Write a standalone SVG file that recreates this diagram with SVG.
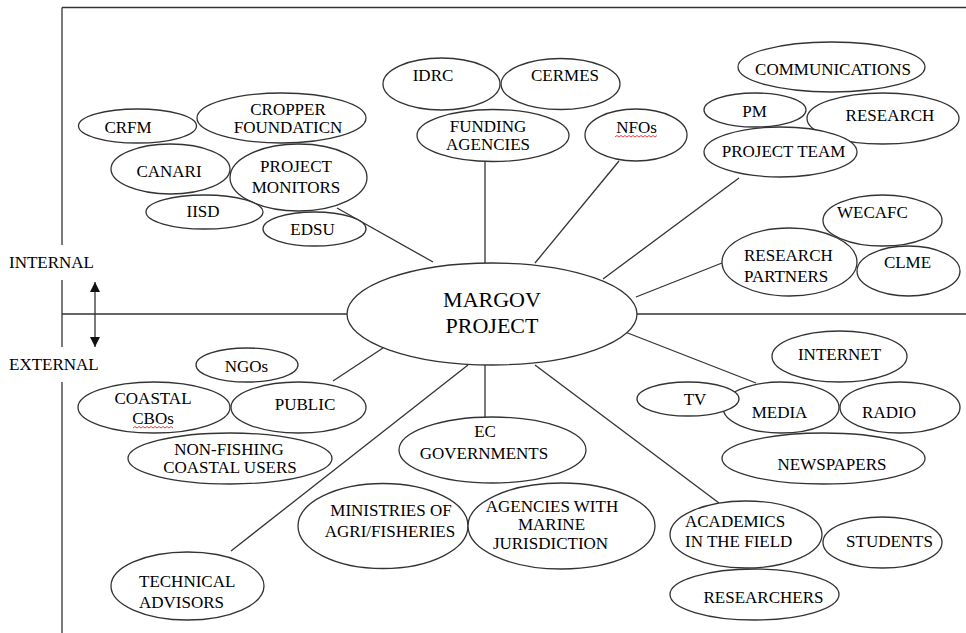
<svg xmlns="http://www.w3.org/2000/svg" width="966" height="633" viewBox="0 0 966 633">
<defs>
  <marker id="ah" viewBox="0 0 10 10" refX="10" refY="5" markerWidth="10" markerHeight="10" markerUnits="userSpaceOnUse" orient="auto">
    <path d="M0,0 L10,5 L0,10 z" fill="#111"/>
  </marker>
</defs>
<rect width="966" height="633" fill="#fff"/>

<g id="frame" stroke="#333" stroke-width="1.3" fill="none">
  <line x1="62" y1="7.5" x2="966" y2="7.5"/>
  <line x1="62" y1="7.5" x2="62" y2="245"/>
  <line x1="62" y1="280" x2="62" y2="347"/>
  <line x1="62" y1="382" x2="62" y2="633"/>
  <line x1="62" y1="314" x2="348" y2="314"/>
  <line x1="637" y1="314" x2="966" y2="314"/>
  <line x1="95" y1="300" x2="95" y2="282" marker-end="url(#ah)"/>
  <line x1="95" y1="300" x2="95" y2="347" marker-end="url(#ah)"/>
</g>
<text font-family="Liberation Serif" font-size="17" x="9" y="268">INTERNAL</text>
<text font-family="Liberation Serif" font-size="17" x="9" y="370">EXTERNAL</text>

<g id="connectors" stroke="#333" stroke-width="1.3" fill="none">
  <line x1="337" y1="208" x2="433" y2="262"/>
  <line x1="485" y1="161" x2="485" y2="263"/>
  <line x1="619" y1="161" x2="535" y2="263"/>
  <line x1="739" y1="178" x2="603" y2="279"/>
  <line x1="722" y1="263" x2="636" y2="297"/>
  <line x1="333" y1="381" x2="383" y2="348"/>
  <line x1="231" y1="551" x2="468" y2="365"/>
  <line x1="485" y1="365" x2="485" y2="417"/>
  <line x1="535" y1="365" x2="719" y2="503"/>
  <line x1="620" y1="330" x2="756" y2="383"/>
</g>

<g id="margov">
  <ellipse cx="492" cy="314" rx="145" ry="51" fill="#fff" stroke="#333" stroke-width="1.3"/>
  <text font-family="Liberation Serif" font-size="22" text-anchor="middle" x="492" y="307">MARGOV</text>
  <text font-family="Liberation Serif" font-size="22" text-anchor="middle" x="492" y="333">PROJECT</text>
</g>

<g id="crfm">
  <ellipse cx="137.5" cy="126" rx="59" ry="17" fill="#fff" stroke="#333" stroke-width="1.3"/>
  <text font-family="Liberation Serif" font-size="17" text-anchor="middle" x="128" y="133">CRFM</text>
</g>
<g id="cropper">
  <ellipse cx="281.5" cy="118" rx="84.5" ry="25" fill="#fff" stroke="#333" stroke-width="1.3"/>
  <text font-family="Liberation Serif" font-size="17" text-anchor="middle" x="288" y="115">CROPPER</text>
  <text font-family="Liberation Serif" font-size="17" text-anchor="middle" x="288" y="133">FOUNDATICN</text>
</g>
<g id="canari">
  <ellipse cx="170.5" cy="169" rx="59.5" ry="25" fill="#fff" stroke="#333" stroke-width="1.3"/>
  <text font-family="Liberation Serif" font-size="17" text-anchor="middle" x="169" y="177">CANARI</text>
</g>
<g id="project-monitors">
  <ellipse cx="298.5" cy="177.5" rx="68.5" ry="33.5" fill="#fff" stroke="#333" stroke-width="1.3"/>
  <text font-family="Liberation Serif" font-size="17" text-anchor="middle" x="296" y="172">PROJECT</text>
  <text font-family="Liberation Serif" font-size="17" text-anchor="middle" x="296" y="193">MONITORS</text>
</g>
<g id="iisd">
  <ellipse cx="204.5" cy="212" rx="58.5" ry="17" fill="#fff" stroke="#333" stroke-width="1.3"/>
  <text font-family="Liberation Serif" font-size="17" text-anchor="middle" x="203" y="217">IISD</text>
</g>
<g id="edsu">
  <ellipse cx="314.5" cy="229" rx="51.5" ry="17" fill="#fff" stroke="#333" stroke-width="1.3"/>
  <text font-family="Liberation Serif" font-size="17" text-anchor="middle" x="312.5" y="235">EDSU</text>
</g>

<g id="idrc">
  <ellipse cx="441.5" cy="84" rx="58.5" ry="26" fill="#fff" stroke="#333" stroke-width="1.3"/>
  <text font-family="Liberation Serif" font-size="17" text-anchor="middle" x="433" y="81">IDRC</text>
</g>
<g id="cermes">
  <ellipse cx="560.5" cy="84" rx="59.5" ry="25.5" fill="#fff" stroke="#333" stroke-width="1.3"/>
  <text font-family="Liberation Serif" font-size="17" text-anchor="middle" x="565" y="81">CERMES</text>
</g>
<g id="funding">
  <ellipse cx="493" cy="135.5" rx="76" ry="26" fill="#fff" stroke="#333" stroke-width="1.3"/>
  <text font-family="Liberation Serif" font-size="17" text-anchor="middle" x="488" y="132">FUNDING</text>
  <text font-family="Liberation Serif" font-size="17" text-anchor="middle" x="488" y="150">AGENCIES</text>
</g>
<g id="nfos">
  <ellipse cx="636" cy="135" rx="51" ry="26" fill="#fff" stroke="#333" stroke-width="1.3"/>
  <text font-family="Liberation Serif" font-size="17" text-anchor="middle" x="636.5" y="133">NFOs</text>
  <path fill="none" stroke="#e03030" stroke-width="0.9" d="M615,137 l2,-1.5 l2,1.5 l2,-1.5 l2,1.5 l2,-1.5 l2,1.5 l2,-1.5 l2,1.5 l2,-1.5 l2,1.5 l2,-1.5 l2,1.5 l2,-1.5 l2,1.5 l2,-1.5 l2,1.5 l2,-1.5 l2,1.5 l2,-1.5 l2,1.5 l2,-1.5"/>
</g>

<g id="communications">
  <ellipse cx="831.5" cy="67" rx="93.5" ry="25" fill="#fff" stroke="#333" stroke-width="1.3"/>
  <text font-family="Liberation Serif" font-size="17" text-anchor="middle" x="833" y="75">COMMUNICATIONS</text>
</g>
<g id="pm">
  <ellipse cx="755" cy="110" rx="51" ry="17" fill="#fff" stroke="#333" stroke-width="1.3"/>
  <text font-family="Liberation Serif" font-size="17" text-anchor="middle" x="754.5" y="117">PM</text>
</g>
<g id="research">
  <ellipse cx="883" cy="118.5" rx="76" ry="25.5" fill="#fff" stroke="#333" stroke-width="1.3"/>
  <text font-family="Liberation Serif" font-size="17" text-anchor="middle" x="890" y="121">RESEARCH</text>
</g>
<g id="project-team">
  <ellipse cx="780.5" cy="152" rx="76.5" ry="25" fill="#fff" stroke="#333" stroke-width="1.3"/>
  <text font-family="Liberation Serif" font-size="17" text-anchor="middle" x="783.5" y="157">PROJECT TEAM</text>
</g>

<g id="wecafc">
  <ellipse cx="882.5" cy="220.5" rx="59.5" ry="25.5" fill="#fff" stroke="#333" stroke-width="1.3"/>
  <text font-family="Liberation Serif" font-size="17" text-anchor="middle" x="872.5" y="218">WECAFC</text>
</g>
<g id="research-partners">
  <ellipse cx="789.5" cy="262" rx="67.5" ry="34" fill="#fff" stroke="#333" stroke-width="1.3"/>
  <text font-family="Liberation Serif" font-size="17" x="744" y="261">RESEARCH</text>
  <text font-family="Liberation Serif" font-size="17" x="744" y="282">PARTNERS</text>
</g>
<g id="clme">
  <ellipse cx="908.5" cy="271" rx="51.5" ry="25" fill="#fff" stroke="#333" stroke-width="1.3"/>
  <text font-family="Liberation Serif" font-size="17" text-anchor="middle" x="907.5" y="268">CLME</text>
</g>

<g id="ngos">
  <ellipse cx="247" cy="365" rx="51" ry="17" fill="#fff" stroke="#333" stroke-width="1.3"/>
  <text font-family="Liberation Serif" font-size="17" text-anchor="middle" x="246.5" y="372">NGOs</text>
</g>
<g id="coastal-cbos">
  <ellipse cx="154" cy="407.5" rx="76" ry="25.5" fill="#fff" stroke="#333" stroke-width="1.3"/>
  <text font-family="Liberation Serif" font-size="17" text-anchor="middle" x="153" y="404">COASTAL</text>
  <text font-family="Liberation Serif" font-size="17" text-anchor="middle" x="153" y="424">CBOs</text>
  <path fill="none" stroke="#e03030" stroke-width="0.9" d="M133,428 l2,-1.5 l2,1.5 l2,-1.5 l2,1.5 l2,-1.5 l2,1.5 l2,-1.5 l2,1.5 l2,-1.5 l2,1.5 l2,-1.5 l2,1.5 l2,-1.5 l2,1.5 l2,-1.5 l2,1.5 l2,-1.5 l2,1.5 l2,-1.5 l2,1.5"/>
</g>
<g id="public">
  <ellipse cx="298.5" cy="407.5" rx="67.5" ry="25.5" fill="#fff" stroke="#333" stroke-width="1.3"/>
  <text font-family="Liberation Serif" font-size="17" text-anchor="middle" x="305" y="410">PUBLIC</text>
</g>
<g id="non-fishing">
  <ellipse cx="230" cy="458.5" rx="102" ry="25.5" fill="#fff" stroke="#333" stroke-width="1.3"/>
  <text font-family="Liberation Serif" font-size="17" text-anchor="middle" x="229" y="455">NON-FISHING</text>
  <text font-family="Liberation Serif" font-size="17" text-anchor="middle" x="230" y="473">COASTAL USERS</text>
</g>
<g id="technical-advisors">
  <ellipse cx="187.5" cy="586" rx="76.5" ry="34" fill="#fff" stroke="#333" stroke-width="1.3"/>
  <text font-family="Liberation Serif" font-size="17" x="139" y="587">TECHNICAL</text>
  <text font-family="Liberation Serif" font-size="17" x="139" y="608">ADVISORS</text>
</g>

<g id="ec-governments">
  <ellipse cx="492.5" cy="450" rx="93.5" ry="33" fill="#fff" stroke="#333" stroke-width="1.3"/>
  <text font-family="Liberation Serif" font-size="17" text-anchor="middle" x="485" y="437">EC</text>
  <text font-family="Liberation Serif" font-size="17" text-anchor="middle" x="484" y="459">GOVERNMENTS</text>
</g>
<g id="ministries">
  <ellipse cx="383" cy="526" rx="85" ry="42.5" fill="#fff" stroke="#333" stroke-width="1.3"/>
  <text font-family="Liberation Serif" font-size="17" text-anchor="middle" x="391" y="516">MINISTRIES OF</text>
  <text font-family="Liberation Serif" font-size="17" text-anchor="middle" x="390" y="537">AGRI/FISHERIES</text>
</g>
<g id="agencies-marine">
  <ellipse cx="561.5" cy="526" rx="93.5" ry="43" fill="#fff" stroke="#333" stroke-width="1.3"/>
  <text font-family="Liberation Serif" font-size="17" text-anchor="middle" x="552" y="512">AGENCIES WITH</text>
  <text font-family="Liberation Serif" font-size="17" text-anchor="middle" x="551.5" y="530">MARINE</text>
  <text font-family="Liberation Serif" font-size="17" text-anchor="middle" x="550.5" y="549">JURISDICTION</text>
</g>

<g id="internet">
  <ellipse cx="839.5" cy="356.5" rx="67.5" ry="25.5" fill="#fff" stroke="#333" stroke-width="1.3"/>
  <text font-family="Liberation Serif" font-size="17" text-anchor="middle" x="839.5" y="360">INTERNET</text>
</g>
<g id="media">
  <ellipse cx="781" cy="407.5" rx="58" ry="25.5" fill="#fff" stroke="#333" stroke-width="1.3"/>
  <text font-family="Liberation Serif" font-size="17" text-anchor="middle" x="779.5" y="418">MEDIA</text>
</g>
<g id="tv">
  <ellipse cx="688" cy="399" rx="51" ry="17" fill="#fff" stroke="#333" stroke-width="1.3"/>
  <text font-family="Liberation Serif" font-size="17" text-anchor="middle" x="695" y="405">TV</text>
</g>
<g id="radio">
  <ellipse cx="900" cy="407.5" rx="60" ry="25.5" fill="#fff" stroke="#333" stroke-width="1.3"/>
  <text font-family="Liberation Serif" font-size="17" text-anchor="middle" x="889" y="418">RADIO</text>
</g>
<g id="newspapers">
  <ellipse cx="823.5" cy="458.5" rx="101.5" ry="25.5" fill="#fff" stroke="#333" stroke-width="1.3"/>
  <text font-family="Liberation Serif" font-size="17" text-anchor="middle" x="832" y="470">NEWSPAPERS</text>
</g>

<g id="academics">
  <ellipse cx="746" cy="534.5" rx="76" ry="33.5" fill="#fff" stroke="#333" stroke-width="1.3"/>
  <text font-family="Liberation Serif" font-size="17" x="685" y="527">ACADEMICS</text>
  <text font-family="Liberation Serif" font-size="17" x="685" y="547">IN THE FIELD</text>
</g>
<g id="students">
  <ellipse cx="882.5" cy="542.5" rx="59.5" ry="25.5" fill="#fff" stroke="#333" stroke-width="1.3"/>
  <text font-family="Liberation Serif" font-size="17" text-anchor="middle" x="889.5" y="547">STUDENTS</text>
</g>
<g id="researchers">
  <ellipse cx="754.5" cy="594.5" rx="84.5" ry="25.5" fill="#fff" stroke="#333" stroke-width="1.3"/>
  <text font-family="Liberation Serif" font-size="17" text-anchor="middle" x="763.5" y="603">RESEARCHERS</text>
</g>
</svg>
